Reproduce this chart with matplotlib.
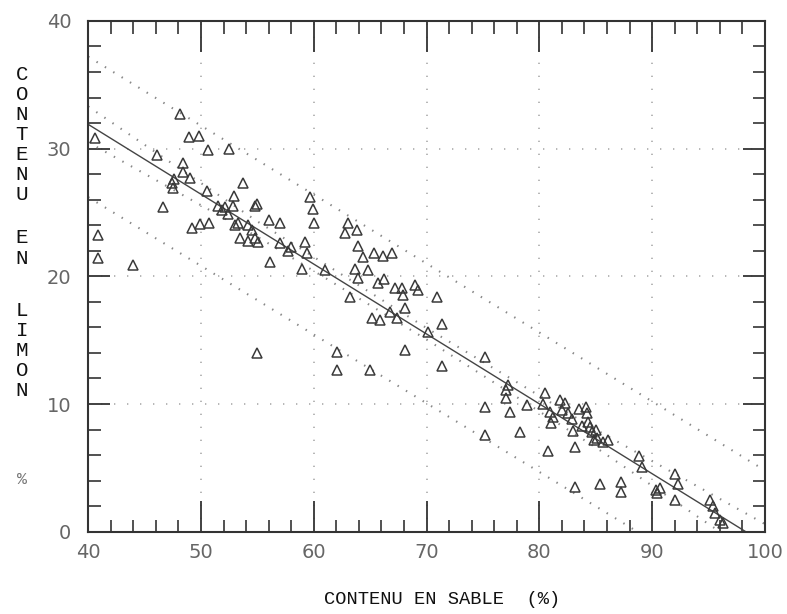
import matplotlib.pyplot as plt
from matplotlib.ticker import MultipleLocator

# sand content (%) vs silt content (%)
sable = [40.6, 40.9, 40.9, 44.0, 46.1, 46.6, 47.4, 47.5, 47.6, 48.1,
         48.4, 48.4, 48.9, 49.8, 49.0, 49.2, 49.9, 50.7, 50.6, 52.5,
         50.5, 51.5, 51.9, 52.1, 52.4, 52.8, 52.9, 53.7, 53.3, 53.0,
         54.2, 54.5, 54.8, 54.2, 55.1, 55.0, 54.8, 53.5, 56.0, 57.0,
         56.1, 57.0, 57.7, 58.0, 59.2, 59.4, 59.0, 59.7, 59.9, 60.0,
         61.0, 55.0, 63.0, 62.8, 63.8, 63.9, 64.4, 65.3, 66.1, 66.9,
         63.7, 63.9, 64.8, 65.7, 66.2, 67.2, 67.8, 69.0, 63.2, 65.2,
         65.9, 66.8, 67.4, 67.9, 68.1, 69.2, 70.9, 70.1, 71.4, 68.1,
         71.4, 62.1, 62.1, 65.0, 75.2, 77.0, 77.0, 77.2, 75.2, 77.4,
         78.9, 75.2, 78.3, 80.5, 80.3, 80.9, 81.0, 80.8, 81.8, 82.0,
         82.5, 82.9, 83.0, 83.5, 84.1, 84.2, 84.3, 84.7, 84.8, 85.1,
         85.6, 86.1, 83.2, 81.2, 82.3, 83.8, 84.5, 85.0, 83.2, 85.4,
         87.2, 87.2, 88.8, 89.1, 90.3, 90.7, 90.4, 92.0, 92.3, 92.0,
         95.1, 95.4, 95.6, 96.0, 96.3]
limon = [30.8, 23.2, 21.4, 20.9, 29.5, 25.4, 27.3, 26.9, 27.6, 32.7,
         28.9, 28.2, 30.9, 31.0, 27.7, 23.8, 24.1, 24.2, 29.9, 30.0,
         26.7, 25.5, 25.2, 25.4, 24.9, 25.5, 26.3, 27.3, 24.2, 24.0,
         24.0, 23.6, 23.0, 22.8, 22.7, 25.7, 25.5, 23.0, 24.4, 24.2,
         21.1, 22.6, 22.0, 22.3, 22.7, 21.8, 20.6, 26.2, 25.3, 24.2,
         20.5, 14.0, 24.2, 23.4, 23.6, 22.4, 21.5, 21.8, 21.6, 21.8,
         20.6, 19.9, 20.5, 19.5, 19.8, 19.1, 19.1, 19.3, 18.4, 16.7,
         16.6, 17.2, 16.7, 18.5, 17.5, 18.9, 18.4, 15.6, 16.3, 14.2,
         13.0, 14.1, 12.7, 12.7, 13.7, 11.1, 10.5, 11.5, 9.8, 9.4,
         9.9, 7.6, 7.8, 10.9, 10.0, 9.4, 8.5, 6.3, 10.3, 9.5,
         9.3, 8.8, 7.9, 9.6, 9.8, 9.3, 8.6, 7.8, 7.2, 7.3,
         7.0, 7.2, 6.6, 9.0, 10.1, 8.3, 8.2, 8.0, 3.5, 3.7,
         3.9, 3.1, 5.9, 5.1, 3.3, 3.4, 3.0, 4.5, 3.7, 2.5,
         2.5, 2.0, 1.5, 0.9, 0.7]

# regression line and dotted bands
reg_x = [40, 98.3]
reg_y = [31.9, 0.0]
conf_x = [40, 55, 70, 85, 100]
conf_hi = [33.3, 24.3, 15.95, 8.0, 0.6]
conf_lo = [30.5, 23.1, 15.05, 6.6, -2.4]
pred_hi_x = [40, 70, 100]
pred_hi = [37.2, 21.0, 4.8]
pred_lo_x = [40, 88.7]
pred_lo = [26.2, 0.0]

xticks = [40, 50, 60, 70, 80, 90, 100]
yticks = [0, 10, 20, 30, 40]

fig = plt.figure(figsize=(7.87, 6.14), dpi=100)
ax = fig.add_axes([0.112, 0.134, 0.860, 0.832])

dot = (0, (0.7, 4))
ax.plot(pred_hi_x, pred_hi, color='#888888', lw=1.5, ls=dot)
ax.plot(pred_lo_x, pred_lo, color='#888888', lw=1.5, ls=dot)
ax.plot(conf_x, conf_hi, color='#888888', lw=1.5, ls=dot)
ax.plot(conf_x, conf_lo, color='#888888', lw=1.5, ls=dot)
ax.plot(reg_x, reg_y, color='#444444', lw=1.0)
ax.plot(sable, limon, ls='none', marker='^', ms=7.5, mfc='none',
        mec='#3a3a3a', mew=1.1)

ax.set_xlim(40, 100)
ax.set_ylim(0, 40)
ax.set_xticks(xticks)
ax.set_yticks(yticks)
ax.xaxis.set_minor_locator(MultipleLocator(2))
ax.yaxis.set_minor_locator(MultipleLocator(2))
ax.grid(which='major', color='#aaaaaa', lw=1.2, ls=(0, (0.8, 7)))

ax.tick_params(axis='x', which='major', direction='in', length=22, width=1.3,
               top=True, bottom=True, pad=8, labelsize=14, labelcolor='#666666',
               color='#333333')
ax.tick_params(axis='y', which='major', direction='in', length=16, width=1.3,
               left=True, right=True, pad=12, labelsize=14, labelcolor='#666666',
               color='#333333')
ax.tick_params(which='minor', direction='in', length=9, width=1.2,
               top=True, bottom=True, left=True, right=True, color='#333333')
for s in ax.spines.values():
    s.set_linewidth(1.5)
    s.set_color('#333333')

# stacked vertical y label, one letter per line
mono = 'Liberation Mono'
words = [('CONTENU', 75), ('EN', 238), ('LIMON', 310)]
for w, y0 in words:
    for i, ch in enumerate(w):
        fig.text(22 / 787, 1 - (y0 + i * 20) / 614, ch, family=mono,
                 fontsize=15, ha='center', va='center', color='#111111')
fig.text(22 / 787, 1 - 480 / 614, '%', family=mono, fontsize=12,
         ha='center', va='center', color='#777777')

fig.text(442 / 787, 1 - 600 / 614, 'CONTENU EN SABLE  (%)', family=mono,
         fontsize=13.5, ha='center', va='center', color='#111111')

fig.savefig('out.png', dpi=100)
